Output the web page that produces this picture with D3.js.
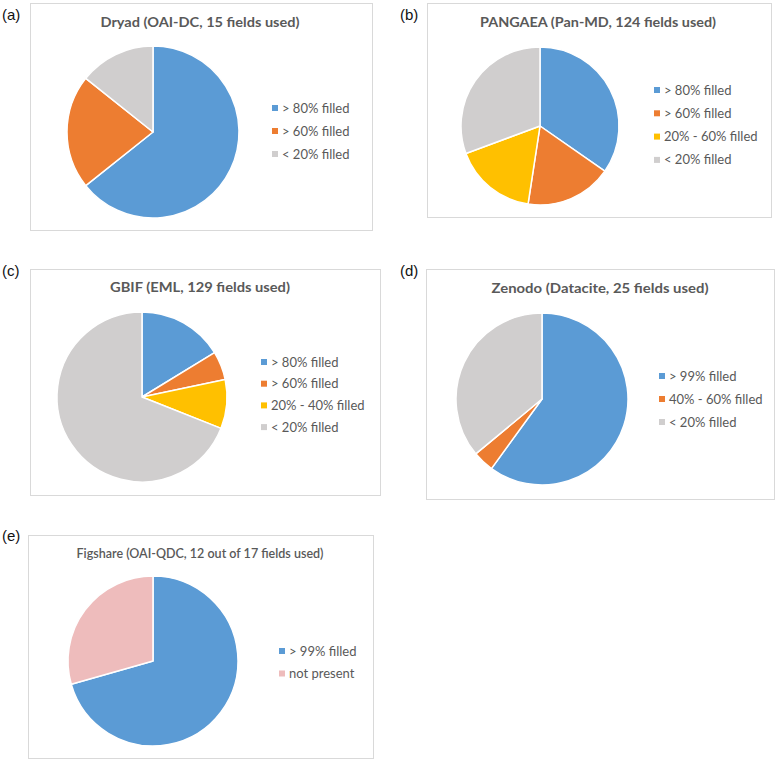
<!DOCTYPE html>
<html>
<head>
<meta charset="utf-8">
<script src="https://cdn.jsdelivr.net/npm/d3@7"></script>
<style>
  body { margin: 0; background: #fff; }
  svg { display: block; }
</style>
</head>
<body>
<svg id="chart" width="777" height="762"></svg>
<script>
// ---- Data ----
const dryadCategories = ["> 80% filled", "> 60% filled", "< 20% filled"];
const dryadValues = [9, 3, 2];

const pangaeaCategories = ["> 80% filled", "> 60% filled", "20% - 60% filled", "< 20% filled"];
const pangaeaValues = [43, 22, 21, 38];

const gbifCategories = ["> 80% filled", "> 60% filled", "20% - 40% filled", "< 20% filled"];
const gbifValues = [21, 7, 12, 89];

const zenodoCategories = ["> 99% filled", "40% - 60% filled", "< 20% filled"];
const zenodoValues = [15, 1, 9];

const figshareCategories = ["> 99% filled", "not present"];
const figshareValues = [12, 5];

const panelLabels = ["(a)", "(b)", "(c)", "(d)", "(e)"];
const panelTitles = [
  "Dryad (OAI-DC, 15 fields used)",
  "PANGAEA (Pan-MD, 124 fields used)",
  "GBIF (EML, 129 fields used)",
  "Zenodo (Datacite, 25 fields used)",
  "Figshare (OAI-QDC, 12 out of 17 fields used)"
];

// colours keyed by category
const colorScale = d3.scaleOrdinal()
  .domain(["> 80% filled", "> 99% filled", "> 60% filled", "40% - 60% filled",
           "20% - 60% filled", "20% - 40% filled", "< 20% filled", "not present"])
  .range(["#5B9BD5", "#5B9BD5", "#ED7D31", "#ED7D31",
          "#FFC000", "#FFC000", "#D0CECE", "#EEBCBC"]);

// ---- Layout (positions only) ----
const panels = [
  { cats: dryadCategories, vals: dryadValues,
    box: [30, 3, 372, 230], label: [2, 20], title: [200, 27, 14, 700, 199],
    cx: 153, cy: 132, r: 86, leg: { sx: 272, tx: 282, y0: 108, dy: 23 } },
  { cats: pangaeaCategories, vals: pangaeaValues,
    box: [427, 3, 771, 217], label: [400, 20], title: [598, 27, 14, 700, 236],
    cx: 540, cy: 126, r: 79, leg: { sx: 654, tx: 664, y0: 90, dy: 23.3 } },
  { cats: gbifCategories, vals: gbifValues,
    box: [30, 269, 380, 495], label: [2, 276], title: [200, 292, 14, 700, 180],
    cx: 142, cy: 397, r: 85, leg: { sx: 261, tx: 271, y0: 362, dy: 21.7 } },
  { cats: zenodoCategories, vals: zenodoValues,
    box: [426, 269, 774, 499], label: [400, 276], title: [600, 293, 14, 700, 217],
    cx: 542, cy: 399, r: 86, leg: { sx: 659, tx: 669, y0: 376, dy: 23 } },
  { cats: figshareCategories, vals: figshareValues,
    box: [28, 535, 373, 758], label: [2, 541], title: [200, 558, 12.5, 600, 247],
    cx: 153, cy: 661, r: 85, leg: { sx: 279, tx: 289, y0: 651, dy: 22.5 } }
];

const svg = d3.select("#chart");
const pie = d3.pie().sort(null).value(d => d.v);

panels.forEach((p, i) => {
  const g = svg.append("g");
  const [x0, y0, x1, y1] = p.box;
  g.append("rect")
    .attr("x", x0 + 0.5).attr("y", y0 + 0.5)
    .attr("width", x1 - x0).attr("height", y1 - y0)
    .attr("fill", "#fff").attr("stroke", "#D9D9D9").attr("stroke-width", 1);

  g.append("text")
    .attr("x", p.label[0]).attr("y", p.label[1])
    .attr("font-family", "Liberation Sans, Arial, sans-serif")
    .attr("font-size", 15).attr("fill", "#111")
    .text(panelLabels[i]);

  const [tx, ty, tfs, tfw, tlen] = p.title;
  g.append("text")
    .attr("x", tx).attr("y", ty)
    .attr("text-anchor", "middle")
    .attr("font-family", "Lato, 'Open Sans', sans-serif")
    .attr("font-size", tfs).attr("font-weight", tfw)
    .attr("fill", "#595959")
    .attr("textLength", tlen).attr("lengthAdjust", "spacingAndGlyphs")
    .text(panelTitles[i]);

  const data = p.cats.map((c, k) => ({ c, v: p.vals[k] }));
  const arc = d3.arc().innerRadius(0).outerRadius(p.r);
  g.append("g").attr("transform", `translate(${p.cx},${p.cy})`)
    .selectAll("path").data(pie(data)).join("path")
    .attr("d", arc)
    .attr("fill", d => colorScale(d.data.c))
    .attr("stroke", "#fff").attr("stroke-width", 1.5)
    .attr("stroke-linejoin", "round");

  const leg = g.append("g");
  const items = leg.selectAll("g").data(p.cats).join("g")
    .attr("transform", (d, k) => `translate(0,${p.leg.y0 + k * p.leg.dy})`);
  items.append("rect")
    .attr("x", p.leg.sx).attr("y", -3)
    .attr("width", 6).attr("height", 6)
    .attr("fill", d => colorScale(d));
  items.append("text")
    .attr("x", p.leg.tx).attr("y", 0)
    .attr("dy", "0.35em")
    .attr("font-family", "Lato, 'Open Sans', sans-serif")
    .attr("font-size", 13).attr("fill", "#595959")
    .text(d => d);
});
</script>
</body>
</html>
